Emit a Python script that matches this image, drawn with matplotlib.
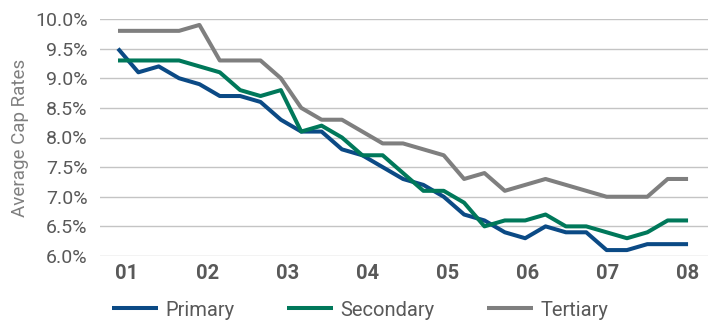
import numpy as np
import matplotlib.pyplot as plt

# quarterly average cap rates, 2001 through 2008
primary = [9.5, 9.1, 9.2, 9.0, 8.9, 8.7, 8.7, 8.6, 8.3, 8.1,
           8.1, 7.8, 7.7, 7.5, 7.3, 7.2, 7.0, 6.7, 6.6, 6.4,
           6.3, 6.5, 6.4, 6.4, 6.1, 6.1, 6.2, 6.2, 6.2]
secondary = [9.3, 9.3, 9.3, 9.3, 9.2, 9.1, 8.8, 8.7, 8.8, 8.1,
             8.2, 8.0, 7.7, 7.7, 7.4, 7.1, 7.1, 6.9, 6.5, 6.6,
             6.6, 6.7, 6.5, 6.5, 6.4, 6.3, 6.4, 6.6, 6.6]
tertiary = [9.8, 9.8, 9.8, 9.8, 9.9, 9.3, 9.3, 9.3, 9.0, 8.5,
            8.3, 8.3, 8.1, 7.9, 7.9, 7.8, 7.7, 7.3, 7.4, 7.1,
            7.2, 7.3, 7.2, 7.1, 7.0, 7.0, 7.0, 7.3, 7.3]
year_labels = ["01", "02", "03", "04", "05", "06", "07", "08"]
series_names = ["Primary", "Secondary", "Tertiary"]
colors = ["#0b4a85", "#00785a", "#7f7f7f"]

plt.rcParams['font.family'] = ['Roboto', 'DejaVu Sans']

fig = plt.figure(figsize=(7.15, 3.22), dpi=100)
ax = fig.add_axes([100 / 715, 1 - 256 / 322, 608 / 715, 237 / 322])

x = np.arange(len(primary))
lines = []
for vals, name, c in zip([primary, secondary, tertiary], series_names, colors):
    ln, = ax.plot(x, vals, color=c, lw=2.9, label=name,
                  solid_joinstyle='round', solid_capstyle='butt')
    lines.append(ln)

ax.set_ylim(6.0, 10.0)
ax.set_xlim(-0.884, 28.98)
ax.set_yticks(np.arange(6.0, 10.01, 0.5))
ax.set_yticklabels([f"{v:.1f}%" for v in np.arange(6.0, 10.01, 0.5)],
                   fontsize=14, color="#595959")
ax.grid(axis='y', color="#c4c4c4", lw=1.0)
ax.set_axisbelow(True)
for s in ax.spines.values():
    s.set_visible(False)

ax.set_xticks(np.linspace(0.44, 28, len(year_labels)))
ax.set_xticklabels(year_labels, fontsize=14.5, fontweight='bold', color="#595959")
ax.tick_params(axis='both', length=0)
ax.tick_params(axis='y', pad=9)
ax.tick_params(axis='x', pad=6)

ax.set_ylabel("Average Cap Rates", fontsize=13.5, color="#808080", labelpad=4)

fig.legend(handles=lines, loc='center left', bbox_to_anchor=(112 / 715, 1 - 310 / 322),
           ncol=3, frameon=False, fontsize=14.5, borderpad=0, borderaxespad=0,
           handlelength=2.3, handletextpad=0.35, columnspacing=2.6,
           labelcolor="#595959")

fig.savefig("out.png", dpi=100)
